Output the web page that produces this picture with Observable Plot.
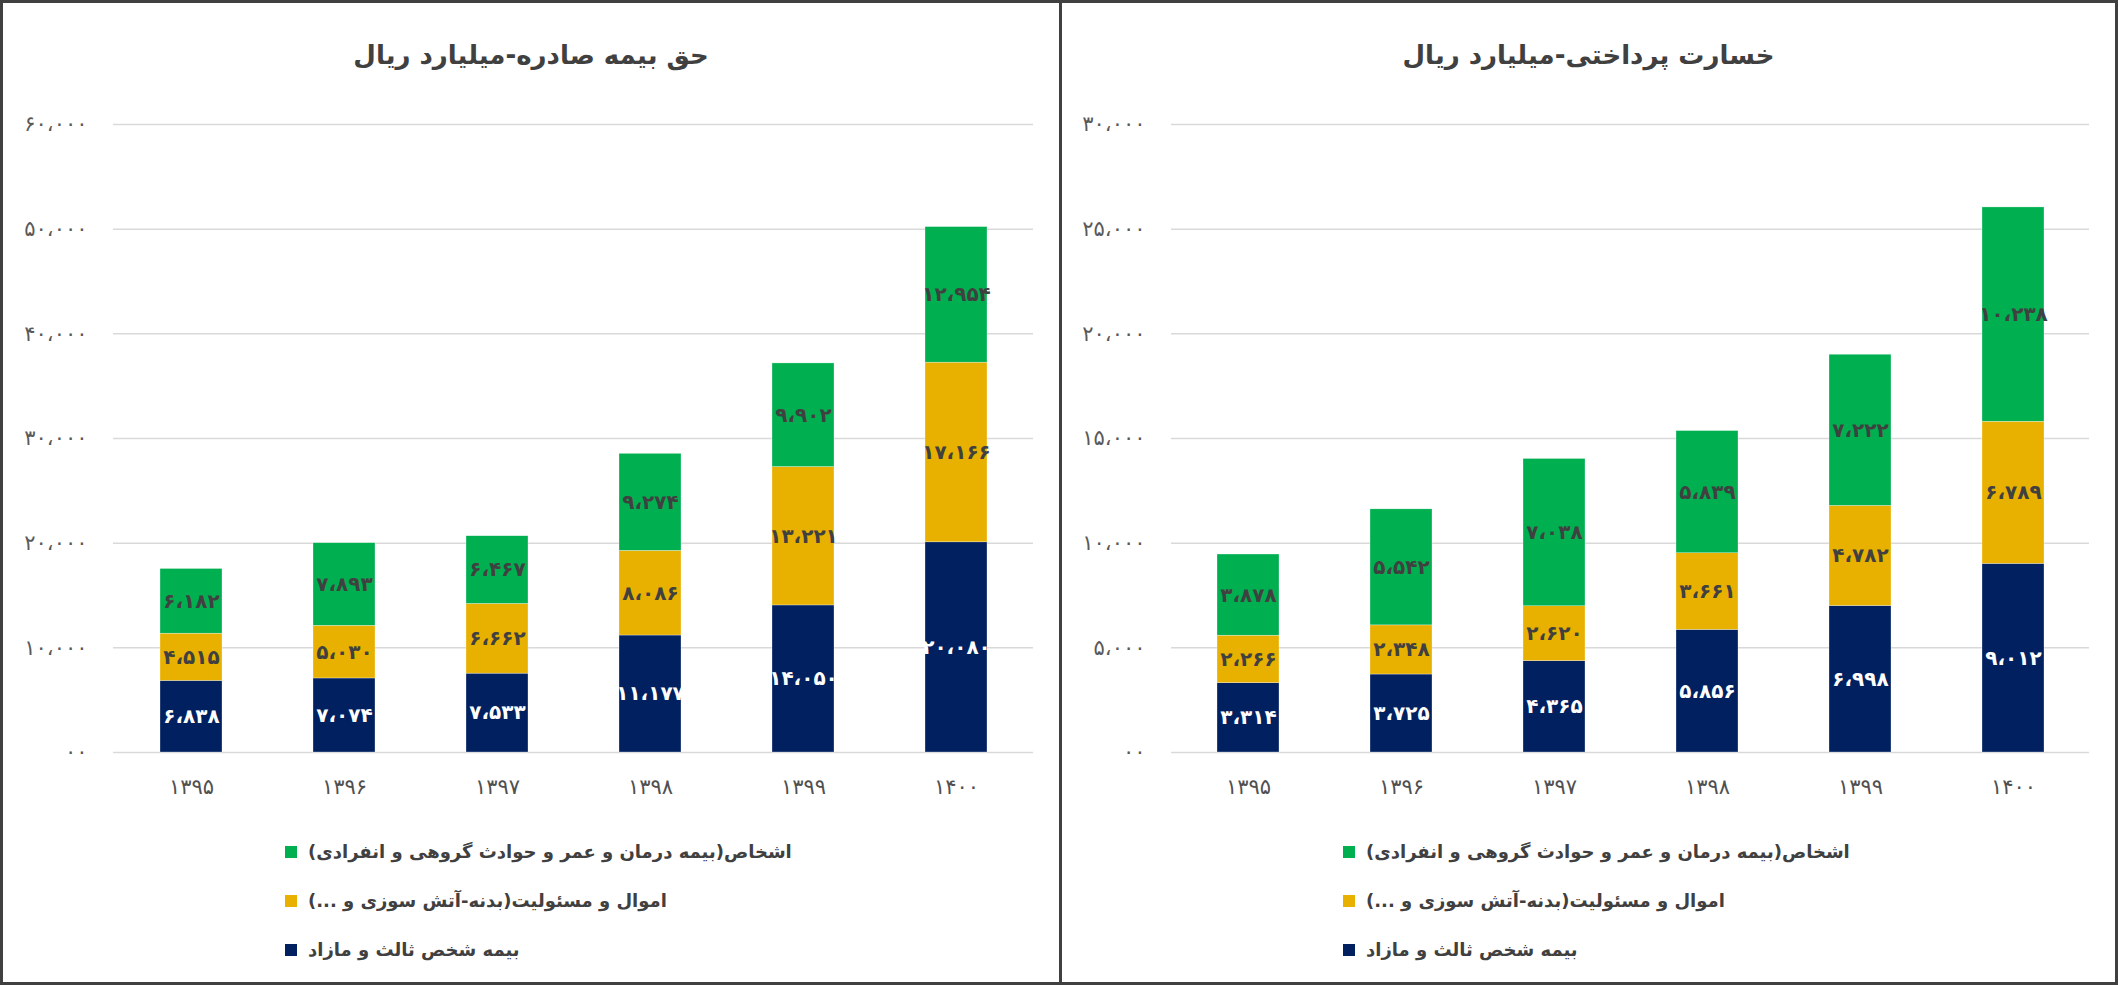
<!DOCTYPE html>
<html><head><meta charset="utf-8">
<script src="https://cdn.jsdelivr.net/npm/d3@7"></script>
<script src="https://cdn.jsdelivr.net/npm/@observablehq/plot@0.6"></script>
<style>
body{margin:0;background:#fff;}
#page{position:relative;width:2118px;height:985px;overflow:hidden;background:#fff;font-family:"DejaVu Sans",sans-serif;}
.panel{position:absolute;top:0;height:985px;box-sizing:border-box;border:3px solid #404040;}
.title{position:absolute;top:30px;height:50px;line-height:50px;text-align:center;font-weight:bold;font-size:26px;color:#404040;direction:rtl;}
.chart{position:absolute;top:80px;}
.legend{position:absolute;top:827px;}
.row{display:flex;align-items:center;height:49px;}
.sw{width:12px;height:12px;margin-right:11px;flex:none;}
.lt{direction:rtl;font-size:18px;font-weight:bold;color:#404040;white-space:nowrap;}
.chart g[aria-label^="y-axis"] text{letter-spacing:2px;}
.chart g[aria-label^="x-axis"] text{letter-spacing:1px;fill:#505050;}
</style></head>
<body>
<div id="page">
  <div class="panel" style="left:0;width:1062px;"></div>
  <div class="panel" style="left:1059px;width:1059px;"></div>
  <div class="title" id="t1" style="left:0;width:1062px;"></div>
  <div class="title" id="t2" style="left:1059px;width:1059px;"></div>
  <div class="chart" id="c1" style="left:0;"></div>
  <div class="chart" id="c2" style="left:1061px;"></div>
  <div class="legend" id="l1" style="left:285px;"></div>
  <div class="legend" id="l2" style="left:1343px;"></div>
</div>
<script>
// ---- data ----
const years = ["۱۳۹۵", "۱۳۹۶", "۱۳۹۷", "۱۳۹۸", "۱۳۹۹", "۱۴۰۰"];
const seriesNames = [
  "بیمه شخص ثالث و مازاد",
  "اموال و مسئولیت(بدنه-آتش سوزی و ...)",
  "اشخاص(بیمه درمان و عمر و حوادث گروهی و انفرادی)"
];
const seriesColors = ["#002060", "#E8B100", "#00B050"];
const labelColors = ["#ffffff", "#404040", "#404040"];

const premiumTitle = "حق بیمه صادره-میلیارد ریال";
const premiumThirdParty = [6838, 7074, 7533, 11177, 14050, 20080];
const premiumProperty = [4515, 5030, 6662, 8086, 13221, 17166];
const premiumPersons = [6182, 7893, 6467, 9274, 9902, 12954];
const premiumTicks = [0, 10000, 20000, 30000, 40000, 50000, 60000];

const claimsTitle = "خسارت پرداختی-میلیارد ریال";
const claimsThirdParty = [3314, 3725, 4365, 5856, 6998, 9012];
const claimsProperty = [2266, 2348, 2620, 3661, 4782, 6789];
const claimsPersons = [3878, 5542, 7038, 5839, 7222, 10238];
const claimsTicks = [0, 5000, 10000, 15000, 20000, 25000, 30000];

// ---- helpers ----
const faDigits = "۰۱۲۳۴۵۶۷۸۹";
function fa(n) {
  if (n === 0) return "۰۰";
  return d3.format(",")(n).replace(/,/g, "،").replace(/\d/g, c => faDigits[+c]);
}

function buildRows(seriesArrays) {
  const rows = [];
  years.forEach((y, i) => {
    seriesArrays.forEach((arr, s) => {
      rows.push({year: y, series: seriesNames[s], value: arr[i], color: seriesColors[s], labelColor: labelColors[s]});
    });
  });
  return rows;
}

function chart(seriesArrays, ticks, width, marginLeft, marginRight) {
  const rows = buildRows(seriesArrays);
  return Plot.plot({
    width, height: 740,
    marginTop: 44, marginBottom: 68, marginLeft, marginRight,
    style: {fontFamily: "DejaVu Sans, sans-serif", fontSize: "21px", color: "#595959", background: "transparent", overflow: "visible"},
    x: {type: "band", domain: years, paddingInner: 0.595, paddingOuter: 0.2975, tickSize: 0, tickPadding: 27, label: null},
    y: {domain: [0, ticks[ticks.length - 1]], ticks: ticks, tickFormat: fa, tickSize: 0, tickPadding: 26, label: null},
    color: {type: "identity"},
    marks: [
      Plot.ruleY(ticks, {stroke: "#d9d9d9", strokeWidth: 1.5}),
      Plot.barY(rows, {x: "year", y: "value", z: "series", fill: "color", stroke: "#ffffff", strokeWidth: 0.5, strokeOpacity: 0.6}),
      Plot.text(rows, Plot.stackY({x: "year", y: "value", z: "series", text: d => fa(d.value), fill: "labelColor", fontWeight: "bold", fontSize: 20}))
    ]
  });
}

function legend(el) {
  for (let s = seriesNames.length - 1; s >= 0; s--) {
    const row = document.createElement("div");
    row.className = "row";
    const sw = document.createElement("div");
    sw.className = "sw";
    sw.style.background = seriesColors[s];
    const t = document.createElement("span");
    t.className = "lt";
    t.dir = "rtl";
    t.textContent = seriesNames[s];
    row.appendChild(sw);
    row.appendChild(t);
    el.appendChild(row);
  }
}

document.getElementById("t1").textContent = premiumTitle;
document.getElementById("t2").textContent = claimsTitle;
document.getElementById("c1").appendChild(chart([premiumThirdParty, premiumProperty, premiumPersons], premiumTicks, 1060, 113, 27));
document.getElementById("c2").appendChild(chart([claimsThirdParty, claimsProperty, claimsPersons], claimsTicks, 1057, 110, 29));
legend(document.getElementById("l1"));
legend(document.getElementById("l2"));
</script>
</body></html>
